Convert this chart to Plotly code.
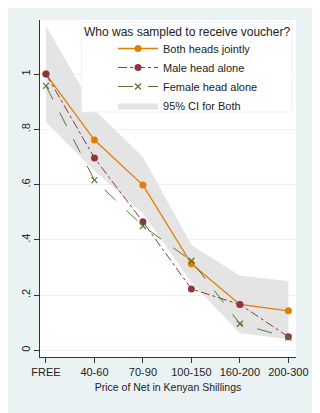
import plotly.graph_objects as go

prices = ["FREE", "40-60", "70-90", "100-150", "160-200", "200-300"]
both = [1.0, 0.761, 0.598, 0.313, 0.166, 0.143]
male = [1.0, 0.696, 0.465, 0.222, 0.166, 0.049]
female = [0.957, 0.616, 0.450, 0.324, 0.096, 0.046]
ci_upper = [1.174, 0.871, 0.700, 0.381, 0.270, 0.251]
ci_lower = [0.826, 0.650, 0.495, 0.245, 0.062, 0.040]
ytick_vals = [0, 0.2, 0.4, 0.6, 0.8, 1.0]
ytick_text = ["0", ".2", ".4", ".6", ".8", "1"]

ORANGE = "#E37E00"
MAROON = "#90353B"
GREEN = "#55752F"
BAND = "#E4E4E4"
BG = "#EAF2F3"
FONT = "Liberation Sans, Arial, sans-serif"

fig = go.Figure()
fig.add_trace(go.Scatter(x=prices, y=ci_upper, mode="lines", line=dict(width=0),
                         showlegend=False, hoverinfo="skip"))
fig.add_trace(go.Scatter(x=prices, y=ci_lower, mode="lines", line=dict(width=0),
                         fill="tonexty", fillcolor=BAND, name="95% CI for Both",
                         legendrank=4))
fig.add_trace(go.Scatter(x=prices, y=both, mode="lines+markers", name="Both heads jointly",
                         line=dict(color=ORANGE, width=1.3),
                         marker=dict(color=ORANGE, size=7, symbol="circle"), legendrank=1))
fig.add_trace(go.Scatter(x=prices, y=male, mode="lines+markers", name="Male head alone",
                         line=dict(color=MAROON, width=1, dash="dashdot"),
                         marker=dict(color=MAROON, size=7, symbol="circle"), legendrank=2))
fig.add_trace(go.Scatter(x=prices, y=female, mode="lines+markers", name="Female head alone",
                         line=dict(color=GREEN, width=1, dash="longdash"),
                         marker=dict(color=GREEN, size=6, symbol="x-thin",
                                     line=dict(color=GREEN, width=1.2)), legendrank=3))

# page has an 8px body margin; figure sized so it ends at the window edge
W, H = 312, 405
L, R, T, B = 29, 13, 12, 56
pw, ph = W - L - R, H - T - B
PAGE_OFF = 8

def px_x(x):  # page pixel -> paper
    return (x - PAGE_OFF - L) / pw

def px_y(y):
    return (H - B - (y - PAGE_OFF)) / ph

fig.update_layout(
    width=W, height=H,
    margin=dict(l=L, r=R, t=T, b=B),
    paper_bgcolor=BG, plot_bgcolor="white",
    font=dict(family=FONT, size=11, color="#222"),
    xaxis=dict(type="category", range=[-0.123, 5.157], showgrid=False,
               showline=True, linecolor="#333", linewidth=1,
               ticks="outside", ticklen=5, tickcolor="#333",
               tickfont=dict(size=11), zeroline=False,
               title=dict(text="Price of Net in Kenyan Shillings", font=dict(size=10.5), standoff=6)),
    yaxis=dict(range=[-0.0242, 1.1955], tickvals=ytick_vals, ticktext=ytick_text,
               tickangle=-90, showgrid=True, gridcolor=BG, gridwidth=1,
               showline=True, linecolor="#333", linewidth=1,
               ticks="outside", ticklen=5, tickcolor="#333", zeroline=False,
               tickfont=dict(size=11)),
    legend=dict(x=px_x(114), y=px_y(34), xanchor="left", yanchor="top",
                bgcolor="rgba(0,0,0,0)", borderwidth=0, itemwidth=40,
                font=dict(size=11), tracegroupgap=0, traceorder="normal"),
    shapes=[
        dict(type="rect", xref="paper", yref="paper", x0=px_x(81), x1=px_x(303),
             y0=px_y(112), y1=px_y(22), fillcolor="white", line=dict(color=BG, width=1),
             layer="above"),
    ],
    annotations=[
        dict(text="Who was sampled to receive voucher?", xref="paper", yref="paper",
             x=px_x(192), y=px_y(32), xanchor="center", yanchor="middle",
             showarrow=False, font=dict(size=12, color="#222")),
    ],
)

fig.write_html("out.html")
